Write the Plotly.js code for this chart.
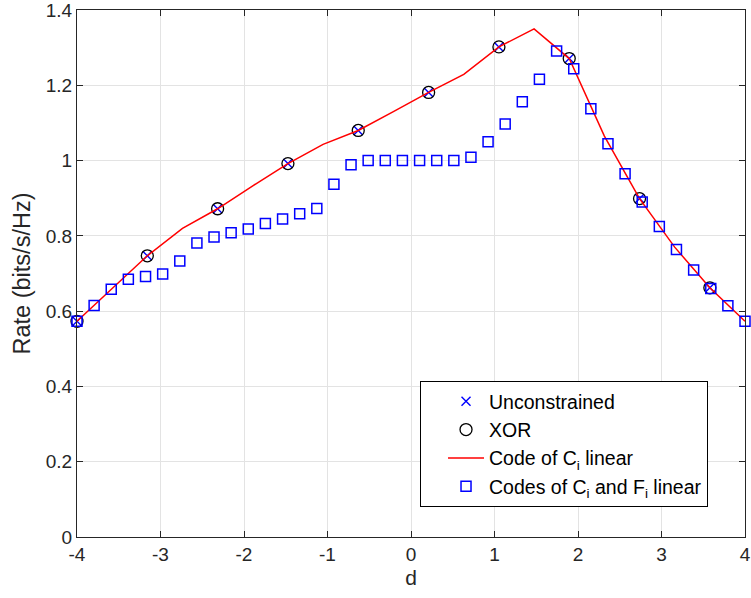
<!DOCTYPE html>
<html>
<head>
<meta charset="utf-8">
<script src="https://cdn.plot.ly/plotly-3.0.1.min.js"></script>
<style>
  html, body { margin: 0; padding: 0; background: #ffffff; }
  #chart { width: 751px; height: 598px; }
</style>
</head>
<body>
<div id="chart"></div>
<script>
// Rate versus d for the different coding schemes
const unconstrainedD = [-4, -3.158, -2.316, -1.474, -0.632, 0.211, 1.053, 1.895, 2.737, 3.579];
const unconstrainedRate = [0.573, 0.747, 0.872, 0.992, 1.080, 1.181, 1.302, 1.271, 0.899, 0.662];

const xorD = [-4, -3.158, -2.316, -1.474, -0.632, 0.211, 1.053, 1.895, 2.737, 3.579];
const xorRate = [0.573, 0.747, 0.872, 0.992, 1.080, 1.181, 1.302, 1.271, 0.899, 0.662];

const ciLinearD = [-4, -3.579, -3.158, -2.737, -2.316, -1.895, -1.474, -1.053, -0.632, -0.211,
                   0.211, 0.632, 1.053, 1.474, 1.895, 2.316, 2.737, 3.158, 3.579, 4];
const ciLinearRate = [0.573, 0.660, 0.747, 0.820, 0.872, 0.933, 0.992, 1.043, 1.080, 1.130,
                      1.181, 1.229, 1.302, 1.350, 1.271, 1.065, 0.899, 0.770, 0.662, 0.573];

const ciFiLinearD = [-4, -3.795, -3.590, -3.385, -3.179, -2.974, -2.769, -2.564, -2.359, -2.154,
                     -1.949, -1.744, -1.538, -1.333, -1.128, -0.923, -0.718, -0.513, -0.308, -0.103,
                     0.103, 0.308, 0.513, 0.718, 0.923, 1.128, 1.333, 1.538, 1.744, 1.949,
                     2.154, 2.359, 2.564, 2.769, 2.974, 3.179, 3.385, 3.590, 3.795, 4];
const ciFiLinearRate = [0.573, 0.615, 0.658, 0.685, 0.692, 0.699, 0.733, 0.781, 0.797, 0.808,
                        0.818, 0.833, 0.845, 0.859, 0.873, 0.937, 0.989, 1.000, 1.000, 1.000,
                        1.000, 1.000, 1.000, 1.009, 1.050, 1.097, 1.156, 1.216, 1.291, 1.244,
                        1.138, 1.045, 0.965, 0.890, 0.825, 0.764, 0.709, 0.660, 0.614, 0.573];

const xTickVals = [-4, -3, -2, -1, 0, 1, 2, 3, 4];
const xTickText = ['-4', '-3', '-2', '-1', '0', '1', '2', '3', '4'];
const yTickVals = [0, 0.2, 0.4, 0.6, 0.8, 1, 1.2, 1.4];
const yTickText = ['0', '0.2', '0.4', '0.6', '0.8', '1', '1.2', '1.4'];

const ink = '#262626';
const fontFamily = '"Liberation Sans", Arial, Helvetica, sans-serif';

const traces = [
  {
    x: unconstrainedD, y: unconstrainedRate, name: 'Unconstrained',
    type: 'scatter', mode: 'markers', cliponaxis: false,
    marker: { symbol: 'x-thin-open', size: 9, color: '#0000ff', line: { width: 1.4, color: '#0000ff' } }
  },
  {
    x: xorD, y: xorRate, name: 'XOR',
    type: 'scatter', mode: 'markers', cliponaxis: false,
    marker: { symbol: 'circle-open', size: 12, color: '#000000', line: { width: 1.3, color: '#000000' } }
  },
  {
    x: ciLinearD, y: ciLinearRate, name: 'Code of C<sub>i</sub> linear',
    type: 'scatter', mode: 'lines', cliponaxis: false,
    line: { color: '#ff0000', width: 1.5 }
  },
  {
    x: ciFiLinearD, y: ciFiLinearRate, name: 'Codes of C<sub>i</sub> and F<sub>i</sub> linear',
    type: 'scatter', mode: 'markers', cliponaxis: false,
    marker: { symbol: 'square-open', size: 10, color: '#0000ff', line: { width: 1.5, color: '#0000ff' } }
  }
];

const axisCommon = {
  showline: true, linecolor: ink, linewidth: 1, mirror: 'ticks',
  ticks: 'inside', ticklen: 6, tickwidth: 1, tickcolor: ink,
  showgrid: true, gridcolor: '#e3e3e3', gridwidth: 1,
  zeroline: false, tickmode: 'array', ticklabeloverflow: 'allow',
  tickfont: { family: fontFamily, size: 19, color: ink }
};

const layout = {
  width: 751, height: 598,
  margin: { l: 76.5, r: 5.5, t: 10, b: 61 },
  paper_bgcolor: '#ffffff', plot_bgcolor: '#ffffff',
  font: { family: fontFamily, color: ink },
  showlegend: true,
  xaxis: Object.assign({}, axisCommon, {
    range: [-4, 4], tickvals: xTickVals, ticktext: xTickText,
    title: { text: 'd', font: { family: fontFamily, size: 21, color: ink }, standoff: 6 }
  }),
  yaxis: Object.assign({}, axisCommon, {
    range: [0, 1.40001], tickvals: yTickVals, ticktext: yTickText,
    title: { text: 'Rate (bits/s/Hz)', font: { family: fontFamily, size: 23.5, color: ink }, standoff: 8 }
  }),
  legend: {
    x: 0.5135, y: 0.296, xanchor: 'left', yanchor: 'top',
    bgcolor: '#ffffff', bordercolor: '#000000', borderwidth: 1,
    font: { family: fontFamily, size: 19.5, color: '#000000' },
    indentation: 22, itemwidth: 36, tracegroupgap: 0
  }
};

Plotly.newPlot('chart', traces, layout, { displayModeBar: false, staticPlot: true });
</script>
</body>
</html>
